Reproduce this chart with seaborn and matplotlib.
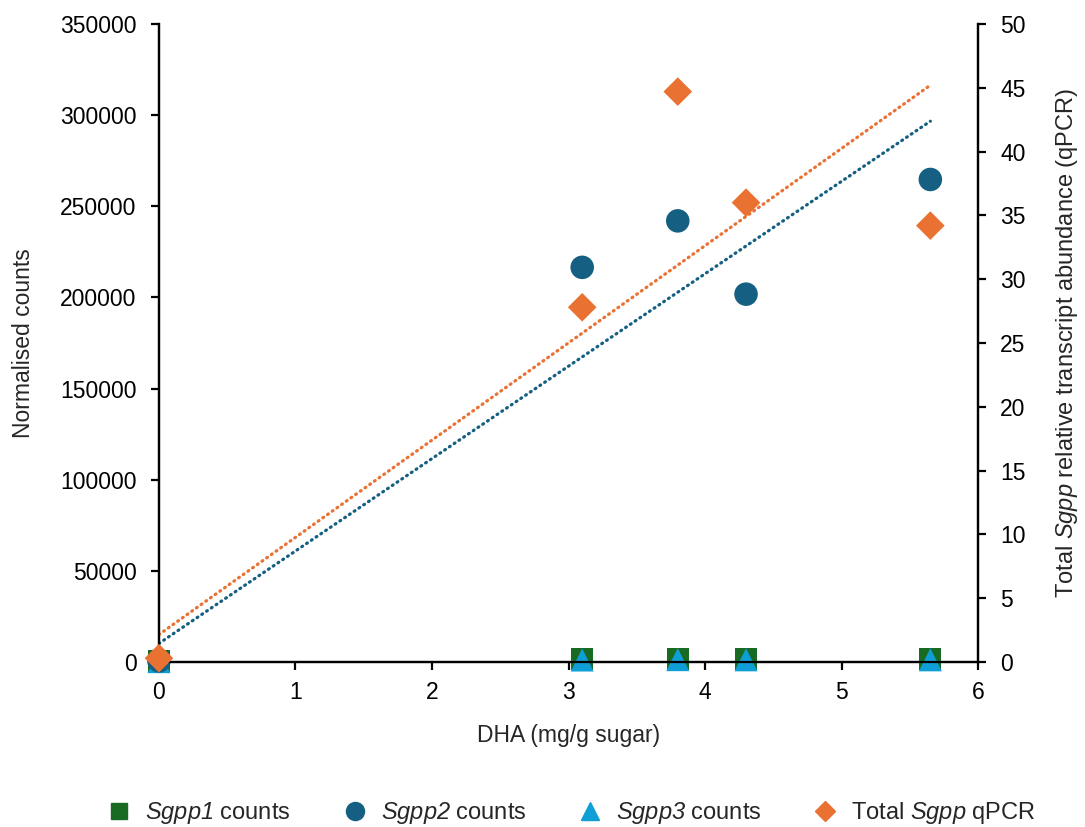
import matplotlib
matplotlib.use("Agg")
import matplotlib.pyplot as plt
from matplotlib.lines import Line2D
import seaborn as sns
import numpy as np
import pandas as pd

# DHA content of each honey sample (mg/g sugar)
dha = [0.0, 3.1, 3.8, 4.3, 5.65]

# RNA-seq normalised counts per gene (left axis)
sgpp1_counts = [300, 1500, 1900, 1600, 1800]
sgpp2_counts = [600, 216500, 242000, 201800, 264700]
sgpp3_counts = [200, 1100, 1300, 1200, 1200]

# Total Sgpp relative transcript abundance by qPCR (right axis)
total_qpcr = [0.3, 27.8, 44.7, 36.0, 34.2]

# Linear trendlines: (slope, intercept)
sgpp2_trend = (50700, 10200)
qpcr_trend = (7.62, 2.15)

# Axis ranges and ticks
x_ticks = [0, 1, 2, 3, 4, 5, 6]
left_ticks = [0, 50000, 100000, 150000, 200000, 250000, 300000, 350000]
right_ticks = [0, 5, 10, 15, 20, 25, 30, 35, 40, 45, 50]

C_GREEN = "#196B24"
C_NAVY = "#156082"
C_BLUE = "#0F9ED5"
C_ORANGE = "#E97132"

sns.set_style("white")
plt.rcParams["font.family"] = ["Liberation Sans", "DejaVu Sans"]
plt.rcParams["mathtext.fontset"] = "custom"
plt.rcParams["mathtext.it"] = "Liberation Sans:italic"
plt.rcParams["mathtext.rm"] = "Liberation Sans:italic"

df = pd.DataFrame({
    "dha": dha,
    "sgpp1": sgpp1_counts,
    "sgpp2": sgpp2_counts,
    "sgpp3": sgpp3_counts,
    "qpcr": total_qpcr,
})

fig = plt.figure(figsize=(10.85, 8.27), dpi=100)
ax = fig.add_axes([0.1465, 0.1995, 0.755, 0.7715])
ax2 = ax.twinx()

ms = 250
sns.scatterplot(data=df, x="dha", y="sgpp1", ax=ax, marker="s", s=ms,
                color=C_GREEN, edgecolor="none", zorder=3, clip_on=False)
sns.scatterplot(data=df, x="dha", y="sgpp3", ax=ax, marker="^", s=ms * 1.1,
                color=C_BLUE, edgecolor="none", zorder=3.5, clip_on=False)
sns.scatterplot(data=df, x="dha", y="sgpp2", ax=ax, marker="o", s=ms * 1.15,
                color=C_NAVY, edgecolor="none", zorder=4, clip_on=False)
sns.scatterplot(data=df, x="dha", y="qpcr", ax=ax2, marker="D", s=ms * 0.85,
                color=C_ORANGE, edgecolor="none", zorder=4, clip_on=False)

# Trendlines over the sampled DHA range
xs = np.array([min(dha), max(dha)])
dots = (0, (0.3, 1.5))
ax.plot(xs, sgpp2_trend[0] * xs + sgpp2_trend[1], color=C_NAVY, lw=2.3,
        linestyle=dots, dash_capstyle="round", zorder=2)
ax2.plot(xs, qpcr_trend[0] * xs + qpcr_trend[1], color=C_ORANGE, lw=2.3,
         linestyle=dots, dash_capstyle="round", zorder=2)

ax.set_xlim(0, 6)
ax.set_ylim(0, 350000)
ax2.set_ylim(0, 50)
ax.set_xticks(x_ticks)
ax.set_xticklabels([str(t) for t in x_ticks])
ax.set_yticks(left_ticks)
ax.set_yticklabels([str(t) for t in left_ticks])
ax2.set_yticks(right_ticks)
ax2.set_yticklabels([str(t) for t in right_ticks])

for a in (ax, ax2):
    a.spines["top"].set_visible(False)
    for s in ("left", "bottom", "right"):
        a.spines[s].set_color("black")
        a.spines[s].set_linewidth(1.6)
    a.grid(False)
    a.set_facecolor("none")

ax.tick_params(axis="x", direction="out", length=6, width=1.6, colors="black",
               labelsize=16.5, pad=8, bottom=True)
ax.tick_params(axis="y", direction="out", length=6, width=1.6, colors="black",
               labelsize=16.5, pad=10, left=True)
ax2.tick_params(axis="y", direction="out", length=6, width=1.6, colors="black",
                labelsize=16.5, pad=10, right=True)

ax.set_xlabel("DHA (mg/g sugar)", fontsize=16.5, labelpad=14)
ax.set_ylabel("Normalised counts", fontsize=16.5, labelpad=18)
ax2.set_ylabel(r"Total $\mathrm{Sgpp}$ relative transcript abundance (qPCR)",
               fontsize=17, labelpad=20)

handles = [
    Line2D([], [], marker="s", ls="none", color=C_GREEN, markersize=12),
    Line2D([], [], marker="o", ls="none", color=C_NAVY, markersize=13),
    Line2D([], [], marker="^", ls="none", color=C_BLUE, markersize=13),
    Line2D([], [], marker="D", ls="none", color=C_ORANGE, markersize=10),
]
labels = [r"$\mathrm{Sgpp1}$ counts", r"$\mathrm{Sgpp2}$ counts",
          r"$\mathrm{Sgpp3}$ counts", r"Total $\mathrm{Sgpp}$ qPCR"]
fig.legend(handles, labels, loc="lower center", bbox_to_anchor=(0.528, -0.025),
           ncol=4, frameon=False, fontsize=17, handletextpad=0.7,
           columnspacing=2.3, handlelength=0.8)

fig.savefig("out.png", dpi=100, facecolor="white")
